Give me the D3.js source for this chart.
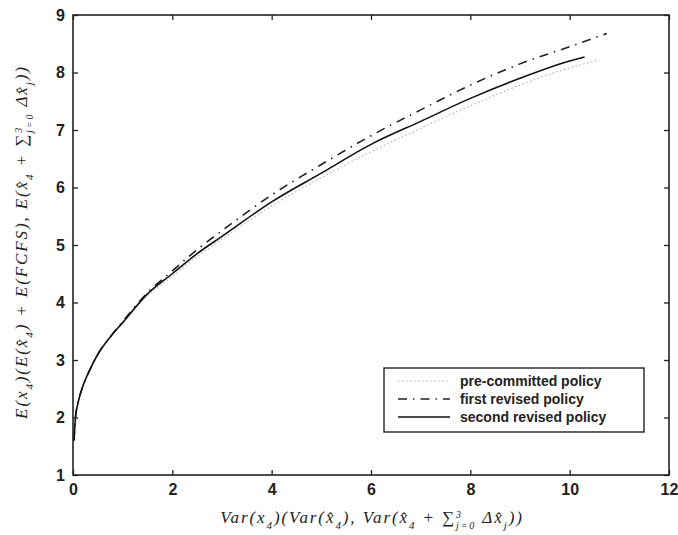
<!DOCTYPE html>
<html>
<head>
<meta charset="utf-8">
<script src="https://cdn.jsdelivr.net/npm/d3@7"></script>
<style>
  body { margin: 0; background: #fff; }
  .tick text { font-family: "Liberation Sans", Arial, sans-serif; font-size: 16px; font-weight: bold; fill: #222; }
  .lab { font-family: "Liberation Serif", "DejaVu Serif", serif; font-style: italic; font-size: 17px; fill: #222; letter-spacing: 1.9px; }
  .leg { font-family: "Liberation Sans", Arial, sans-serif; font-size: 14px; font-weight: bold; fill: #222; }
</style>
</head>
<body>
<div id="chart"></div>
<script>
// curves: [x, y]
var preCommitted = [[0.02,1.6],[0.05,2.0],[0.1,2.25],[0.2,2.55],[0.35,2.85],[0.5,3.1],[0.75,3.4],[1,3.65],[1.5,4.12],
  [2,4.45],[2.5,4.8],[3,5.1],[4,5.68],[5,6.17],[6,6.62],[7,7.03],[8,7.42],[9,7.78],[10,8.08],[10.6,8.22]];
var firstRevised = [[0.02,1.6],[0.05,2.0],[0.1,2.25],[0.2,2.55],[0.35,2.85],[0.5,3.1],[0.75,3.4],[1,3.67],[1.5,4.17],
  [2,4.55],[2.5,4.92],[3,5.25],[4,5.87],[5,6.4],[6,6.9],[7,7.35],[8,7.78],[9,8.15],[10,8.45],[10.75,8.68]];
var secondRevised = [[0.02,1.6],[0.05,2.0],[0.1,2.25],[0.2,2.55],[0.35,2.85],[0.5,3.1],[0.75,3.4],[1,3.65],[1.5,4.15],
  [2,4.5],[2.5,4.85],[3,5.15],[4,5.75],[5,6.25],[6,6.75],[7,7.15],[8,7.55],[9,7.9],[10,8.2],[10.3,8.27]];
var seriesNames = ['pre-committed policy', 'first revised policy', 'second revised policy'];
var xTicks = [0, 2, 4, 6, 8, 10, 12];
var yTicks = [1, 2, 3, 4, 5, 6, 7, 8, 9];

var width = 678, height = 535;
var margin = {left: 73, right: 9, top: 15, bottom: 60};

var svg = d3.select('#chart').append('svg')
  .attr('width', width).attr('height', height);

var x = d3.scaleLinear().domain([0, 12]).range([margin.left, width - margin.right]);
var y = d3.scaleLinear().domain([1, 9]).range([height - margin.bottom, margin.top]);

var styles = [
  {stroke: '#b5b5b5', width: 1.2, dash: '1.5,2.5'},
  {stroke: '#222', width: 1.6, dash: '9,6,1.5,6'},
  {stroke: '#111', width: 1.6, dash: null}
];

var line = d3.line()
  .x(function(d) { return x(d[0]); })
  .y(function(d) { return y(d[1]); })
  .curve(d3.curveMonotoneX);

[preCommitted, firstRevised, secondRevised].forEach(function(s, i) {
  svg.append('path')
    .attr('d', line(s))
    .attr('fill', 'none')
    .attr('stroke', styles[i].stroke)
    .attr('stroke-width', styles[i].width)
    .attr('stroke-dasharray', styles[i].dash);
});

// axes, ticks inside, matlab-style box
var tickLen = 5;
svg.append('g').attr('transform', 'translate(0,' + y.range()[0] + ')')
  .call(d3.axisBottom(x).tickValues(xTicks).tickSize(-tickLen).tickPadding(9))
  .call(function(g) { g.select('.domain').remove(); });
svg.append('g').attr('transform', 'translate(0,' + y.range()[1] + ')')
  .call(d3.axisTop(x).tickValues(xTicks).tickSize(-tickLen).tickFormat(''))
  .call(function(g) { g.select('.domain').remove(); });
svg.append('g').attr('transform', 'translate(' + x.range()[0] + ',0)')
  .call(d3.axisLeft(y).tickValues(yTicks).tickSize(-tickLen).tickPadding(8))
  .call(function(g) { g.select('.domain').remove(); });
svg.append('g').attr('transform', 'translate(' + x.range()[1] + ',0)')
  .call(d3.axisRight(y).tickValues(yTicks).tickSize(-tickLen).tickFormat(''))
  .call(function(g) { g.select('.domain').remove(); });
svg.selectAll('.tick line').attr('stroke', '#222').attr('stroke-width', 1.3);

svg.append('rect')
  .attr('x', x.range()[0]).attr('y', y.range()[1])
  .attr('width', x.range()[1] - x.range()[0])
  .attr('height', y.range()[0] - y.range()[1])
  .attr('fill', 'none').attr('stroke', '#222').attr('stroke-width', 1.6);

// legend
var lg = svg.append('g').attr('transform', 'translate(384,368)');
lg.append('rect').attr('width', 260).attr('height', 64)
  .attr('fill', '#fff').attr('stroke', '#222').attr('stroke-width', 1.4);
seriesNames.forEach(function(n, i) {
  var yy = 13 + i * 18;
  lg.append('line').attr('x1', 14).attr('x2', 66).attr('y1', yy).attr('y2', yy)
    .attr('stroke', styles[i].stroke).attr('stroke-width', styles[i].width)
    .attr('stroke-dasharray', styles[i].dash);
  lg.append('text').attr('class', 'leg').attr('x', 76).attr('y', yy + 5).text(n);
});

// axis labels with sub/superscripts
function sub(t, s) {
  t.append('tspan').attr('baseline-shift', 'sub').attr('font-size', '11px').text(s);
}

var xl = svg.append('text').attr('class', 'lab')
  .attr('x', 372).attr('y', 523).attr('text-anchor', 'middle');
xl.append('tspan').text('Var(x');
sub(xl, '4');
xl.append('tspan').text(')(Var(x\u0302');
sub(xl, '4');
xl.append('tspan').text('), Var(x\u0302');
sub(xl, '4');
xl.append('tspan').text(' + \u2211');
xl.append('tspan').attr('baseline-shift', 'super').attr('font-size', '10px').text('3');
xl.append('tspan').attr('dx', -7).attr('baseline-shift', 'sub').attr('font-size', '10px').text('j=0');
xl.append('tspan').text(' \u0394x\u0302');
sub(xl, 'j');
xl.append('tspan').text('))');

var yl = svg.append('text').attr('class', 'lab')
  .attr('transform', 'translate(27,242) rotate(-90)')
  .attr('text-anchor', 'middle');
yl.append('tspan').text('E(x');
sub(yl, '4');
yl.append('tspan').text(')(E(x\u0302');
sub(yl, '4');
yl.append('tspan').text(') + E(FCFS), E(x\u0302');
sub(yl, '4');
yl.append('tspan').text(' + \u2211');
yl.append('tspan').attr('baseline-shift', 'super').attr('font-size', '10px').text('3');
yl.append('tspan').attr('dx', -7).attr('baseline-shift', 'sub').attr('font-size', '10px').text('j=0');
yl.append('tspan').text(' \u0394x\u0302');
sub(yl, 'j');
yl.append('tspan').text('))');
</script>
</body>
</html>
